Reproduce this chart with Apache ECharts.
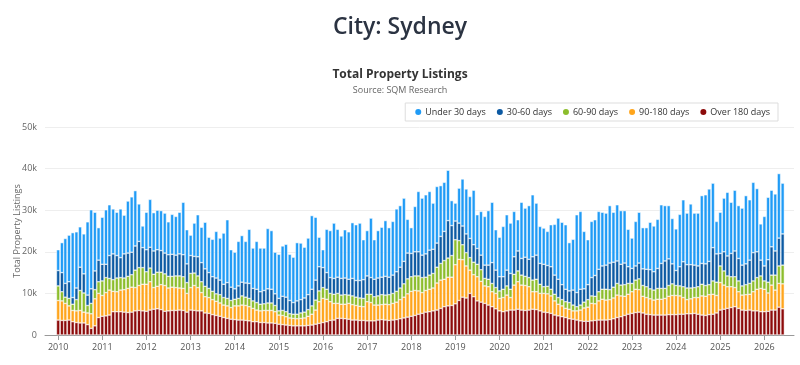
<!DOCTYPE html>
<html>
<head>
<meta charset="utf-8">
<script src="https://cdn.jsdelivr.net/npm/echarts@6/dist/echarts.min.js"></script>
<style>
  html, body { margin: 0; padding: 0; background: #fff; }
  #chart { width: 800px; height: 365px; }
</style>
</head>
<body>
<div id="chart"></div>
<script>
// ---------- DATA (values in thousands of listings, monthly from Jan 2010) ----------
const years = [2010, 2011, 2012, 2013, 2014, 2015, 2016, 2017, 2018, 2019, 2020, 2021, 2022, 2023, 2024, 2025, 2026];
const seriesNames = ['Under 30 days', '30-60 days', '60-90 days', '90-180 days', 'Over 180 days'];

const over180 = [
  3.6,3.5,3.5,3.6,3.2,3.0,2.9,2.9,2.5,1.6,2.2,4.2,
  4.5,4.6,4.8,5.6,5.6,5.6,5.5,5.4,5.5,5.8,5.9,5.8,
  5.7,6.0,6.2,6.3,6.1,5.7,5.8,5.9,5.9,6.0,5.9,5.5,
  6.0,5.9,5.8,5.8,5.3,5.2,4.9,4.7,4.5,4.2,4.0,3.8,
  3.7,3.6,3.6,3.5,3.4,3.2,3.2,3.0,3.0,2.9,2.9,2.8,
  2.6,2.5,2.4,2.3,2.2,2.2,2.2,2.2,2.3,2.4,2.6,2.8,
  3.0,3.2,3.5,3.6,4.0,4.0,3.9,3.8,3.6,3.6,3.5,3.5,
  3.4,3.4,3.4,3.6,3.7,3.6,3.5,3.6,3.7,3.9,4.1,4.3,
  4.5,4.7,5.0,5.2,5.5,5.6,5.8,6.0,6.4,6.8,7.0,7.1,
  7.5,8.3,9.1,8.9,10.0,9.2,8.2,7.9,7.6,7.2,6.8,6.3,
  5.8,5.6,5.8,6.0,6.0,6.2,6.0,5.9,6.0,6.2,6.1,5.8,
  5.5,5.4,5.2,4.8,4.6,4.4,4.2,3.9,3.8,3.6,3.4,3.3,
  3.3,3.4,3.5,3.6,3.6,3.6,3.7,3.9,4.2,4.4,4.7,5.0,
  5.2,5.4,5.5,5.3,5.0,4.9,4.8,4.8,4.8,4.8,4.9,4.9,
  4.9,5.0,5.0,5.1,5.1,5.2,5.0,4.8,4.7,4.9,5.0,5.3,
  6.0,6.2,6.4,6.6,6.8,6.4,6.0,5.9,6.0,5.8,5.8,5.6,
  5.6,5.7,6.0,6.0,6.7,6.3
];
const d90to180 = [
  4.7,4.7,4.1,3.4,2.7,2.8,3.0,2.6,2.8,3.5,6.5,5.8,
  5.0,5.6,6.0,4.9,4.8,5.2,5.4,5.8,6.0,5.6,6.0,6.4,
  6.5,6.8,5.2,5.4,6.0,6.2,5.5,5.6,5.5,5.3,5.3,4.5,
  5.4,6.0,5.6,4.4,3.9,3.8,3.6,3.4,3.2,3.0,3.0,2.8,
  3.3,3.4,3.6,3.6,3.4,3.2,2.8,2.8,2.9,3.0,3.0,2.8,
  2.2,2.2,2.0,1.8,1.8,1.7,1.8,1.9,2.2,2.6,3.4,5.2,
  5.8,5.4,4.5,4.0,3.6,3.4,3.5,3.8,3.7,3.5,3.4,3.3,
  4.6,4.4,3.8,3.6,3.6,3.8,3.8,4.0,4.2,4.6,5.0,5.6,
  6.0,6.0,5.6,5.0,5.2,5.4,5.5,6.5,6.8,6.6,6.9,6.8,
  9.4,9.9,9.0,7.7,5.6,5.3,5.8,5.0,4.2,4.4,3.6,3.7,
  3.0,3.4,3.8,3.0,6.0,6.6,6.0,6.0,5.6,4.2,4.3,4.2,
  4.5,4.5,4.2,3.4,2.8,2.6,2.2,2.3,2.0,2.2,2.6,3.2,
  3.4,4.2,4.0,4.6,5.0,4.8,4.8,5.0,5.4,5.0,4.6,4.8,
  5.2,5.6,5.4,4.0,4.0,3.8,3.6,3.8,3.8,4.0,4.4,4.6,
  4.6,4.4,4.0,3.4,3.6,3.8,4.0,4.6,4.6,4.8,4.8,4.2,
  6.6,5.8,5.2,5.0,4.6,4.0,3.6,3.8,3.8,4.6,5.2,5.6,
  5.4,4.4,6.0,4.8,5.7,6.0
];
const d60to90 = [
  3.5,2.2,1.5,1.8,1.5,2.7,4.8,4.6,1.8,2.5,2.2,2.8,
  3.5,3.6,2.8,2.8,3.3,3.0,2.8,2.9,3.0,4.2,4.3,4.0,
  3.0,3.3,3.2,3.4,3.0,2.8,2.8,2.6,2.8,2.9,2.8,2.6,
  3.4,3.0,2.8,2.6,2.5,2.2,2.0,1.8,2.0,1.8,1.8,1.7,
  1.6,1.8,2.2,2.0,2.0,1.8,1.8,1.6,1.6,1.8,1.8,1.5,
  1.0,1.2,1.2,1.0,1.0,1.1,1.3,1.4,1.6,2.0,2.4,2.6,
  2.6,2.4,2.0,2.2,2.4,2.2,2.3,2.0,2.1,2.0,2.0,2.0,
  1.8,2.0,2.0,2.2,2.4,2.2,2.4,2.4,2.6,2.8,3.2,3.6,
  3.5,3.5,3.6,3.6,3.2,3.4,3.5,3.8,4.0,4.5,4.6,5.2,
  6.0,4.5,3.6,3.2,3.0,3.0,3.0,2.8,1.8,1.8,2.0,1.4,
  1.8,2.0,2.2,2.0,2.6,2.6,2.4,2.2,2.2,2.8,3.0,2.2,
  1.6,1.8,1.6,1.6,1.6,1.5,1.6,1.6,1.4,1.0,1.2,1.4,
  1.8,1.8,1.8,2.2,2.4,2.6,2.4,2.6,2.8,2.6,2.8,2.6,
  2.0,2.2,2.6,2.6,2.6,2.4,2.4,2.6,2.6,2.4,2.6,2.8,
  2.4,2.4,2.6,2.8,2.6,2.4,2.6,2.8,2.6,2.4,3.2,3.2,
  4.0,3.4,2.6,2.4,2.6,2.6,2.2,2.4,2.6,2.6,2.8,3.0,
  2.0,2.6,2.4,3.6,4.2,4.5
];
const d30to60 = [
  3.7,4.6,3.3,4.0,1.6,2.8,5.6,4.6,2.5,3.5,4.5,5.2,
  4.0,3.2,5.5,6.2,5.4,4.8,5.8,5.6,5.4,5.8,6.3,4.8,
  5.3,5.0,5.6,5.4,5.2,5.0,5.2,5.3,5.0,5.3,5.3,4.5,
  4.3,4.0,4.6,4.6,4.2,3.8,3.5,3.8,3.5,3.2,3.8,3.2,
  2.5,3.0,3.3,3.4,3.6,3.0,3.2,3.0,3.2,3.4,3.3,2.8,
  3.0,3.4,3.5,3.2,2.8,3.2,3.2,3.4,3.6,4.0,4.8,5.8,
  4.8,4.0,3.8,3.8,3.9,4.0,4.0,3.8,4.2,4.0,4.2,4.5,
  4.4,4.0,4.2,4.3,4.2,4.5,4.2,4.4,4.7,5.0,5.4,6.2,
  5.6,5.8,5.8,5.4,5.6,6.0,5.8,5.8,6.5,7.0,9.0,7.2,
  4.5,4.2,4.5,4.5,4.6,4.2,3.8,3.5,3.2,3.4,5.0,4.2,
  3.4,3.0,3.8,3.8,4.2,4.8,4.0,4.6,4.4,5.6,5.8,5.0,
  5.4,5.0,5.4,4.6,4.4,3.6,3.0,2.8,3.6,3.4,3.8,3.2,
  3.6,4.4,5.0,5.4,5.6,5.8,6.4,6.0,5.4,5.0,5.2,4.0,
  3.6,3.4,3.8,4.0,4.2,4.6,4.4,4.8,6.0,6.6,6.4,4.8,
  3.6,4.6,6.0,5.6,5.6,5.4,5.0,5.0,5.2,5.6,8.0,6.8,
  3.0,4.6,4.8,5.6,6.2,5.4,5.0,5.0,5.6,6.8,6.2,3.8,
  3.6,5.4,6.8,5.8,6.7,7.5
];
const under30 = [
  5.0,7.2,10.8,11.2,15.6,13.5,9.7,9.6,17.6,19.0,14.1,7.8,
  11.3,13.1,12.2,10.8,10.4,11.7,9.3,12.5,13.3,13.3,9.0,5.2,
  9.0,11.5,9.2,9.5,9.6,9.6,7.9,9.6,9.3,10.0,12.6,8.2,
  4.9,8.0,10.1,8.5,11.2,8.5,9.0,11.2,10.1,12.3,15.1,9.0,
  8.8,10.7,11.2,10.0,13.0,9.7,11.5,10.5,10.2,14.5,14.1,10.0,
  10.6,12.1,12.7,11.1,10.9,14.0,13.6,12.2,13.6,17.7,15.1,7.1,
  4.3,10.4,11.3,13.3,11.5,10.2,11.6,11.4,13.4,13.4,13.8,9.6,
  10.9,14.3,9.5,11.4,12.0,13.4,11.9,12.9,15.1,14.8,15.2,8.1,
  6.2,10.9,14.5,13.7,14.2,14.1,11.1,13.6,12.2,11.8,12.1,6.0,
  4.3,8.4,11.3,10.8,10.1,13.1,8.1,10.5,11.7,13.1,14.5,9.7,
  9.5,12.1,13.3,12.1,10.9,7.5,13.5,11.8,12.9,14.9,12.5,8.9,
  8.7,8.2,10.1,12.2,14.7,15.0,15.5,11.6,12.2,18.7,18.7,13.8,
  10.8,13.5,13.4,13.9,12.9,12.5,13.8,12.0,13.5,12.9,12.6,9.0,
  7.3,10.7,12.2,9.9,10.0,11.4,11.0,11.8,14.1,13.3,12.8,10.9,
  10.0,12.6,14.9,12.4,14.6,12.5,12.7,16.3,16.6,17.4,15.5,7.8,
  9.9,12.9,15.3,12.3,14.6,12.7,13.7,16.4,14.5,16.9,15.2,8.7,
  11.9,15.0,13.6,13.7,15.5,12.2
];

// month positions (local-time timestamps) built from the years list
const monthTimes = [];
years.forEach(y => {
  for (let m = 0; m < 12; m++) monthTimes.push(new Date(y, m, 1).getTime());
});
const xPositions = monthTimes.slice(0, over180.length);

const colors = {
  'Under 30 days': '#1f9bf6',
  '30-60 days': '#0c5aa3',
  '60-90 days': '#8cbd2c',
  '90-180 days': '#ffa51c',
  'Over 180 days': '#8c0a0a'
};
const valuesByName = {
  'Over 180 days': over180,
  '90-180 days': d90to180,
  '60-90 days': d60to90,
  '30-60 days': d30to60,
  'Under 30 days': under30
};
const FONT = '"Open Sans", "Noto Sans", sans-serif';
const DAY = 24 * 3600 * 1000;

const stackOrder = ['Over 180 days', '90-180 days', '60-90 days', '30-60 days', 'Under 30 days'];
const series = stackOrder.map(name => ({
  name: name,
  type: 'bar',
  stack: 'total',
  barWidth: 3.4,
  itemStyle: { color: colors[name], borderColor: '#ffffff', borderWidth: 0.5 },
  emphasis: { disabled: true },
  data: xPositions.map((t, i) => [t, valuesByName[name][i]])
}));

const chart = echarts.init(document.getElementById('chart'), null, { renderer: 'canvas' });
chart.setOption({
  animation: false,
  backgroundColor: '#ffffff',
  textStyle: { fontFamily: FONT },
  color: seriesNames.map(n => colors[n]),
  title: [
    {
      text: 'City: Sydney', left: 'center', top: 11,
      textStyle: { fontFamily: FONT, fontSize: 23, fontWeight: 600, color: '#2b3342' }
    },
    {
      text: 'Total Property Listings', subtext: 'Source: SQM Research',
      left: 'center', top: 64, itemGap: 5,
      textStyle: { fontFamily: FONT, fontSize: 12, fontWeight: 'bold', color: '#333333' },
      subtextStyle: { fontFamily: FONT, fontSize: 9, color: '#666666' }
    }
  ],
  legend: {
    data: seriesNames,
    right: 22, top: 103,
    icon: 'circle', itemWidth: 8, itemHeight: 8, itemGap: 9,
    borderColor: '#dddddd', borderWidth: 1, padding: [4, 8],
    textStyle: { fontFamily: FONT, fontSize: 9, color: '#333333', padding: [0, 0, 0, -2] }
  },
  grid: { left: 45, right: 6, top: 127, bottom: 30, containLabel: false, outerBoundsMode: 'none' },
  xAxis: {
    type: 'time',
    min: new Date(2009, 8, 28).getTime(),
    max: new Date(2026, 7, 20).getTime(),
    minInterval: 360 * DAY,
    maxInterval: 370 * DAY,
    splitNumber: 17,
    axisLine: { show: true, lineStyle: { color: '#999999', width: 1 } },
    axisTick: { show: true, length: 5, lineStyle: { color: '#999999' } },
    axisLabel: {
      fontFamily: FONT, fontSize: 9, color: '#555555', margin: 8,
      formatter: '{yyyy}', showMinLabel: false, showMaxLabel: false
    },
    splitLine: { show: false }
  },
  yAxis: {
    type: 'value', min: 0, max: 50, interval: 10,
    name: 'Total Property Listings', nameLocation: 'middle', nameGap: 23,
    nameMoveOverlap: false,
    nameTextStyle: { fontFamily: FONT, fontSize: 9, color: '#666666' },
    axisLine: { show: false }, axisTick: { show: false },
    axisLabel: { fontFamily: FONT, fontSize: 9, color: '#666666', margin: 8,
      formatter: v => (v === 0 ? '0' : v + 'k') },
    splitLine: { lineStyle: { color: '#eeeeee', width: 1 } }
  },
  series: series
});
</script>
</body>
</html>
